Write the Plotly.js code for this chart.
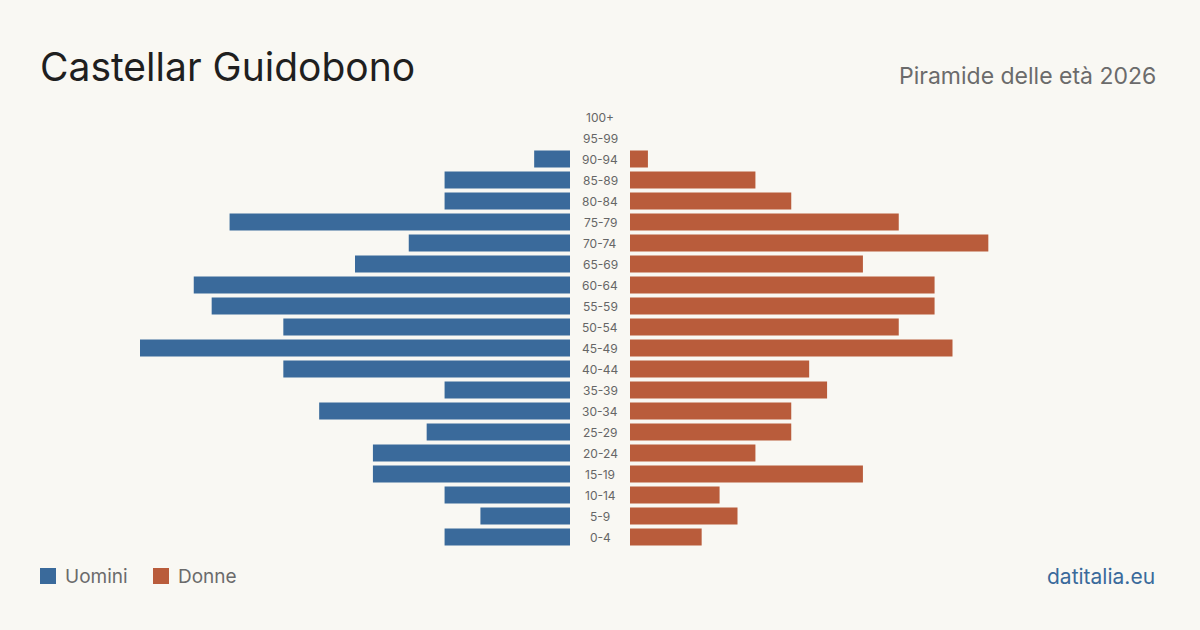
<!DOCTYPE html>
<html>
<head>
<meta charset="utf-8">
<script src="https://cdn.plot.ly/plotly-3.0.1.min.js"></script>
<style>
  html, body { margin: 0; padding: 0; background: #f9f8f3; }
  #chart { width: 1200px; height: 630px; }
</style>
</head>
<body>
<div id="chart"></div>
<script>
// Age groups, bottom to top
const ageGroups = ["0-4","5-9","10-14","15-19","20-24","25-29","30-34","35-39","40-44","45-49","50-54","55-59","60-64","65-69","70-74","75-79","80-84","85-89","90-94","95-99","100+"];
const men   = [7,5,7,11,11,8,14,7,16,24,16,20,21,12,9,19,7,7,2,0,0];
const women = [4,6,5,13,7,9,9,11,10,18,15,17,17,13,20,15,9,7,1,0,0];
const seriesNames = ["Uomini", "Donne"];
const titleText = "Castellar Guidobono";
const subtitleText = "Piramide delle età 2026";
const sourceText = "datitalia.eu";

const BLUE = "#3a6a9b";
const ORANGE = "#b95c3b";
const BG = "#f9f8f3";
const FONT = "Inter, 'Noto Sans', sans-serif";

const maxVal = Math.max(...men, ...women);

const traces = [
  {
    type: "bar", orientation: "h", name: seriesNames[0],
    x: men, y: ageGroups, xaxis: "x", yaxis: "y",
    marker: { color: BLUE }, showlegend: false, hoverinfo: "skip"
  },
  {
    type: "bar", orientation: "h", name: seriesNames[1],
    x: women, y: ageGroups, xaxis: "x2", yaxis: "y",
    marker: { color: ORANGE }, showlegend: false, hoverinfo: "skip"
  }
];

const axisCommon = { showgrid: false, zeroline: false, showticklabels: false, showline: false, ticks: "", fixedrange: true };

const annotations = ageGroups.map(a => ({
  text: a, xref: "paper", x: 0.5, yref: "y", y: a,
  xanchor: "center", yanchor: "middle", showarrow: false, yshift: -0.5,
  font: { family: FONT, size: 12, color: "#666666" }
}));

annotations.push({
  text: subtitleText, xref: "paper", x: 1158/1200, xanchor: "right",
  yref: "paper", y: 1 - 76/630, yanchor: "middle", showarrow: false,
  font: { family: FONT, size: 23, color: "#6b6b6b" }
});
annotations.push({
  text: sourceText, xref: "paper", x: 1157/1200, xanchor: "right",
  yref: "paper", y: 1 - 576/630, yanchor: "middle", showarrow: false,
  font: { family: FONT, size: 21, color: BLUE }
});
annotations.push({
  text: seriesNames[0], xref: "paper", x: 63/1200, xanchor: "left",
  yref: "paper", y: 1 - 576/630, yanchor: "middle", showarrow: false,
  font: { family: FONT, size: 19, color: "#6b6b6b" }
});
annotations.push({
  text: seriesNames[1], xref: "paper", x: 176/1200, xanchor: "left",
  yref: "paper", y: 1 - 576/630, yanchor: "middle", showarrow: false,
  font: { family: FONT, size: 19, color: "#6b6b6b" }
});

const shapes = [
  { type: "rect", xref: "paper", yref: "paper", x0: 40/1200, x1: 56/1200, y0: 1 - 584/630, y1: 1 - 568/630, fillcolor: BLUE, line: { width: 0 } },
  { type: "rect", xref: "paper", yref: "paper", x0: 153/1200, x1: 169/1200, y0: 1 - 584/630, y1: 1 - 568/630, fillcolor: ORANGE, line: { width: 0 } }
];

const layout = {
  width: 1200, height: 630,
  margin: { l: 0, r: 0, t: 0, b: 0 },
  paper_bgcolor: BG, plot_bgcolor: BG,
  font: { family: FONT },
  title: {
    text: titleText, x: 40/1200, xanchor: "left", xref: "paper",
    yref: "container", y: 1 - 67/630, yanchor: "middle",
    font: { family: FONT, size: 39, color: "#1f1f1f" }
  },
  bargap: 0.19,
  xaxis: Object.assign({ domain: [140/1200, 570/1200], range: [maxVal, 0] }, axisCommon),
  xaxis2: Object.assign({ domain: [630/1200, 1060/1200], range: [0, maxVal], anchor: "y" }, axisCommon),
  yaxis: Object.assign({ domain: [(630-547.5)/630, (630-106.5)/630], type: "category",
    categoryorder: "array", categoryarray: ageGroups, range: [-0.5, ageGroups.length - 0.5] }, axisCommon),
  annotations: annotations,
  shapes: shapes,
  showlegend: false
};

Plotly.newPlot("chart", traces, layout, { staticPlot: true, displayModeBar: false });
</script>
</body>
</html>
